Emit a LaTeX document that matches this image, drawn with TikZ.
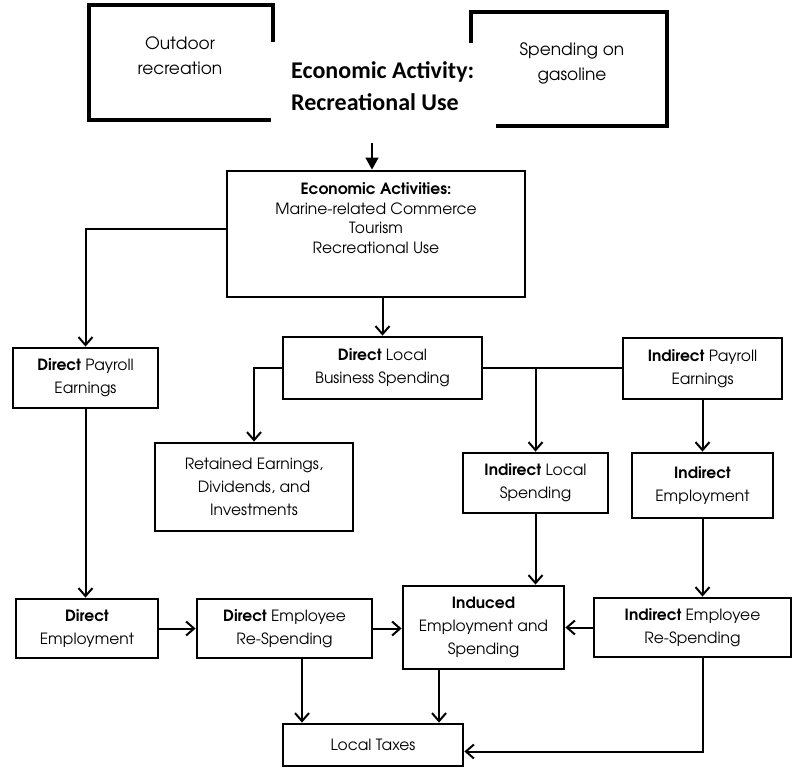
\documentclass[tikz,border=0pt]{standalone}
\usepackage{fontspec}
\setmainfont{TeX Gyre Adventor}
\newfontfamily\calib{Carlito}
\usetikzlibrary{arrows.meta,calc}
\begin{document}
\begin{tikzpicture}[x=1pt,y=-1pt,
  box/.style={draw, line width=2.8pt, inner sep=0pt, align=center, font=\fontsize{15.5}{23}\selectfont},
  topbox/.style={line width=3.5pt, line join=miter},
  conn/.style={line width=2pt},
  arr/.style={conn, -{Straight Barb[length=8pt,width=14pt,line width=2pt]}},
  lbl/.style={align=center, inner sep=0pt}]
\useasboundingbox (0,0) rectangle (797,768);
% top partial boxes
\draw[topbox] (273,42) -- (273,5) -- (89,5) -- (89,120) -- (271,120);
\draw[topbox] (471,43) -- (471,12) -- (667,12) -- (667,126) -- (496,126);
\node[lbl, font=\fontsize{17}{25}\selectfont] (outd) at (180,56) {Outdoor\\recreation};
\node[lbl, font=\fontsize{17}{25}\selectfont] (gas) at (572,63) {Spending on\\gasoline};
\node[lbl, align=left, anchor=west, font=\calib\bfseries\fontsize{24}{32}\selectfont] (ea) at (291,86) {Economic Activity:\\Recreational Use};
\coordinate (arrtop) at (372,143);
% main boxes
\node[box, minimum width=298pt, minimum height=126pt] (econ) at (376,234) {};
\node[lbl, font=\fontsize{15.5}{19.5}\selectfont] (econT) at (376,218) {\textbf{Economic Activities:}\\Marine-related Commerce\\Tourism\\Recreational Use};
\node[box, minimum width=145pt, minimum height=60pt] (dpay) at (85.5,378) {\textbf{Direct} Payroll\\Earnings};
\node[box, minimum width=199pt, minimum height=62pt] (dloc) at (382.5,368) {\textbf{Direct} Local\\Business Spending};
\node[box, minimum width=159pt, minimum height=61pt] (ipay) at (702.5,368.5) {\textbf{Indirect} Payroll\\Earnings};
\node[box, minimum width=198pt, minimum height=88pt] (ret) at (254,487) {Retained Earnings,\\Dividends, and\\Investments};
\node[box, minimum width=145pt, minimum height=60pt] (iloc) at (535.5,483) {\textbf{Indirect} Local\\Spending};
\node[box, minimum width=141pt, minimum height=65pt] (iemp) at (702.5,485.5) {\textbf{Indirect}\\Employment};
\node[box, minimum width=142pt, minimum height=59pt] (demp) at (87,628.5) {\textbf{Direct}\\Employment};
\node[box, minimum width=175pt, minimum height=59pt] (dere) at (284.5,628.5) {\textbf{Direct} Employee\\Re-Spending};
\node[box, minimum width=161pt, minimum height=83pt] (ind) at (483.5,627.5) {\textbf{Induced}\\Employment and\\Spending};
\node[box, minimum width=197pt, minimum height=59pt] (iere) at (692.5,627.5) {\textbf{Indirect} Employee\\Re-Spending};
\node[box, minimum width=180pt, minimum height=42pt] (tax) at (373,745) {Local Taxes};
% connectors
\draw[line width=1.3pt, -{Triangle[length=12pt,width=13pt]}] (arrtop) -- (arrtop |- econ.north);
\draw[arr] ([yshift=5pt]econ.west) -| (dpay.north);
\draw[arr] (dloc.north |- econ.south) -- (dloc.north);
\draw[arr] (dloc.west) -| (ret.north);
\draw[conn] (dloc.east) -- (ipay.west |- dloc.east);
\draw[arr] (iloc.north |- dloc.east) -- (iloc.north);
\draw[arr] (ipay.south) -- (iemp.north);
\draw[arr] (dpay.south) -- (dpay.south |- demp.north);
\draw[arr] (demp.east) -- (dere.west);
\draw[arr] (dere.east) -- (dere.east -| ind.west);
\draw[arr] (iloc.south) -- (iloc.south |- ind.north);
\draw[arr] (iemp.south) -- (iemp.south |- iere.north);
\draw[arr] (iere.west) -- (iere.west -| ind.east);
\draw[arr] ([xshift=17.5pt]dere.south) -- ([xshift=17.5pt]dere.south |- tax.north);
\draw[arr] ([xshift=-44.5pt]ind.south) -- ([xshift=-44.5pt]ind.south |- tax.north);
\draw[arr] ([xshift=10.5pt]iere.south) |- ([yshift=-6.5pt]tax.east);
\end{tikzpicture}
\end{document}
